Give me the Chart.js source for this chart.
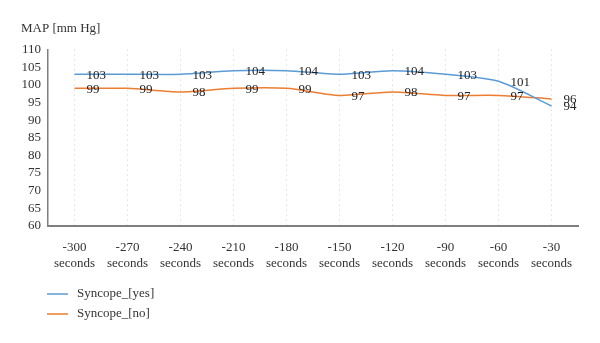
<!DOCTYPE html>
<html>
<head>
<meta charset="utf-8">
<script src="https://cdn.jsdelivr.net/npm/chart.js@4"></script>
<style>
  html, body { margin: 0; padding: 0; background: #fff; }
  #wrap { width: 600px; height: 343px; }
</style>
</head>
<body>
<div id="wrap"><canvas id="mapChart" width="600" height="343"></canvas></div>
<script>
// categories (seconds before event)
const timeLabels = [
    ["-300", "seconds"], ["-270", "seconds"], ["-240", "seconds"], ["-210", "seconds"], ["-180", "seconds"],
    ["-150", "seconds"], ["-120", "seconds"], ["-90", "seconds"], ["-60", "seconds"], ["-30", "seconds"]
];
const syncopeYes = [103, 103, 103, 104, 104, 103, 104, 103, 101, 94];
const syncopeNo = [99, 99, 98, 99, 99, 97, 98, 97, 97, 96];
const seriesNames = ["Syncope_[yes]", "Syncope_[no]"];

const serif = "'Liberation Serif', 'DejaVu Serif', serif";

// draws the value next to each point (right side)
const valueLabels = {
    id: "valueLabels",
    afterDatasetsDraw(chart) {
        const ctx = chart.ctx;
        ctx.save();
        ctx.font = "13px " + serif;
        ctx.fillStyle = "#222";
        ctx.textAlign = "left";
        ctx.textBaseline = "middle";
        chart.data.datasets.forEach((ds, i) => {
            const meta = chart.getDatasetMeta(i);
            meta.data.forEach((pt, j) => {
                ctx.fillText(ds.data[j], pt.x + 12, pt.y + 1);
            });
        });
        ctx.restore();
    }
};

// legend stacked under the axis, left side
const stackedLegend = {
    id: "stackedLegend",
    afterDraw(chart) {
        const ctx = chart.ctx;
        ctx.save();
        ctx.font = "13px " + serif;
        ctx.textBaseline = "middle";
        chart.data.datasets.forEach((ds, i) => {
            const y = 294 + i * 20;
            ctx.strokeStyle = ds.borderColor;
            ctx.lineWidth = 1.5;
            ctx.beginPath();
            ctx.moveTo(47, y);
            ctx.lineTo(68, y);
            ctx.stroke();
            ctx.fillStyle = "#333";
            ctx.fillText(ds.label, 77, y);
        });
        ctx.restore();
    }
};

new Chart(document.getElementById("mapChart").getContext("2d"), {
    type: "line",
    data: {
        labels: timeLabels,
        datasets: [{
            label: seriesNames[0],
            data: syncopeYes,
            borderColor: "#5b9bd5",
            borderWidth: 1.5,
            pointRadius: 0,
            tension: 0.25
        }, {
            label: seriesNames[1],
            data: syncopeNo,
            borderColor: "#ed7d31",
            borderWidth: 1.5,
            pointRadius: 0,
            tension: 0.25
        }]
    },
    options: {
        responsive: false,
        animation: false,
        layout: { padding: { left: 21, right: 22, top: 15, bottom: 58 } },
        plugins: {
            legend: { display: false },
            tooltip: { enabled: false },
            title: {
                display: true,
                text: "MAP [mm Hg]",
                align: "start",
                color: "#333",
                font: { family: serif, size: 13, weight: "normal" },
                padding: { top: 6, bottom: 13 }
            }
        },
        scales: {
            x: {
                offset: true,
                grid: { display: true, offset: false, color: "#cfcfcf", drawTicks: false },
                border: { display: true, color: "#7f7f7f", width: 2, dash: [1, 4] },
                ticks: {
                    color: "#333",
                    font: { family: serif, size: 13 },
                    padding: 14,
                    maxRotation: 0,
                    autoSkip: false
                }
            },
            y: {
                min: 60,
                max: 110,
                afterFit(scale) { scale.width = 27; },
                grid: { display: false, drawTicks: false },
                border: { display: true, color: "#7f7f7f", width: 1.5 },
                ticks: {
                    stepSize: 5,
                    autoSkip: false,
                    color: "#333",
                    font: { family: serif, size: 13 },
                    padding: 7
                }
            }
        }
    },
    plugins: [valueLabels, stackedLegend]
});
</script>
</body>
</html>
